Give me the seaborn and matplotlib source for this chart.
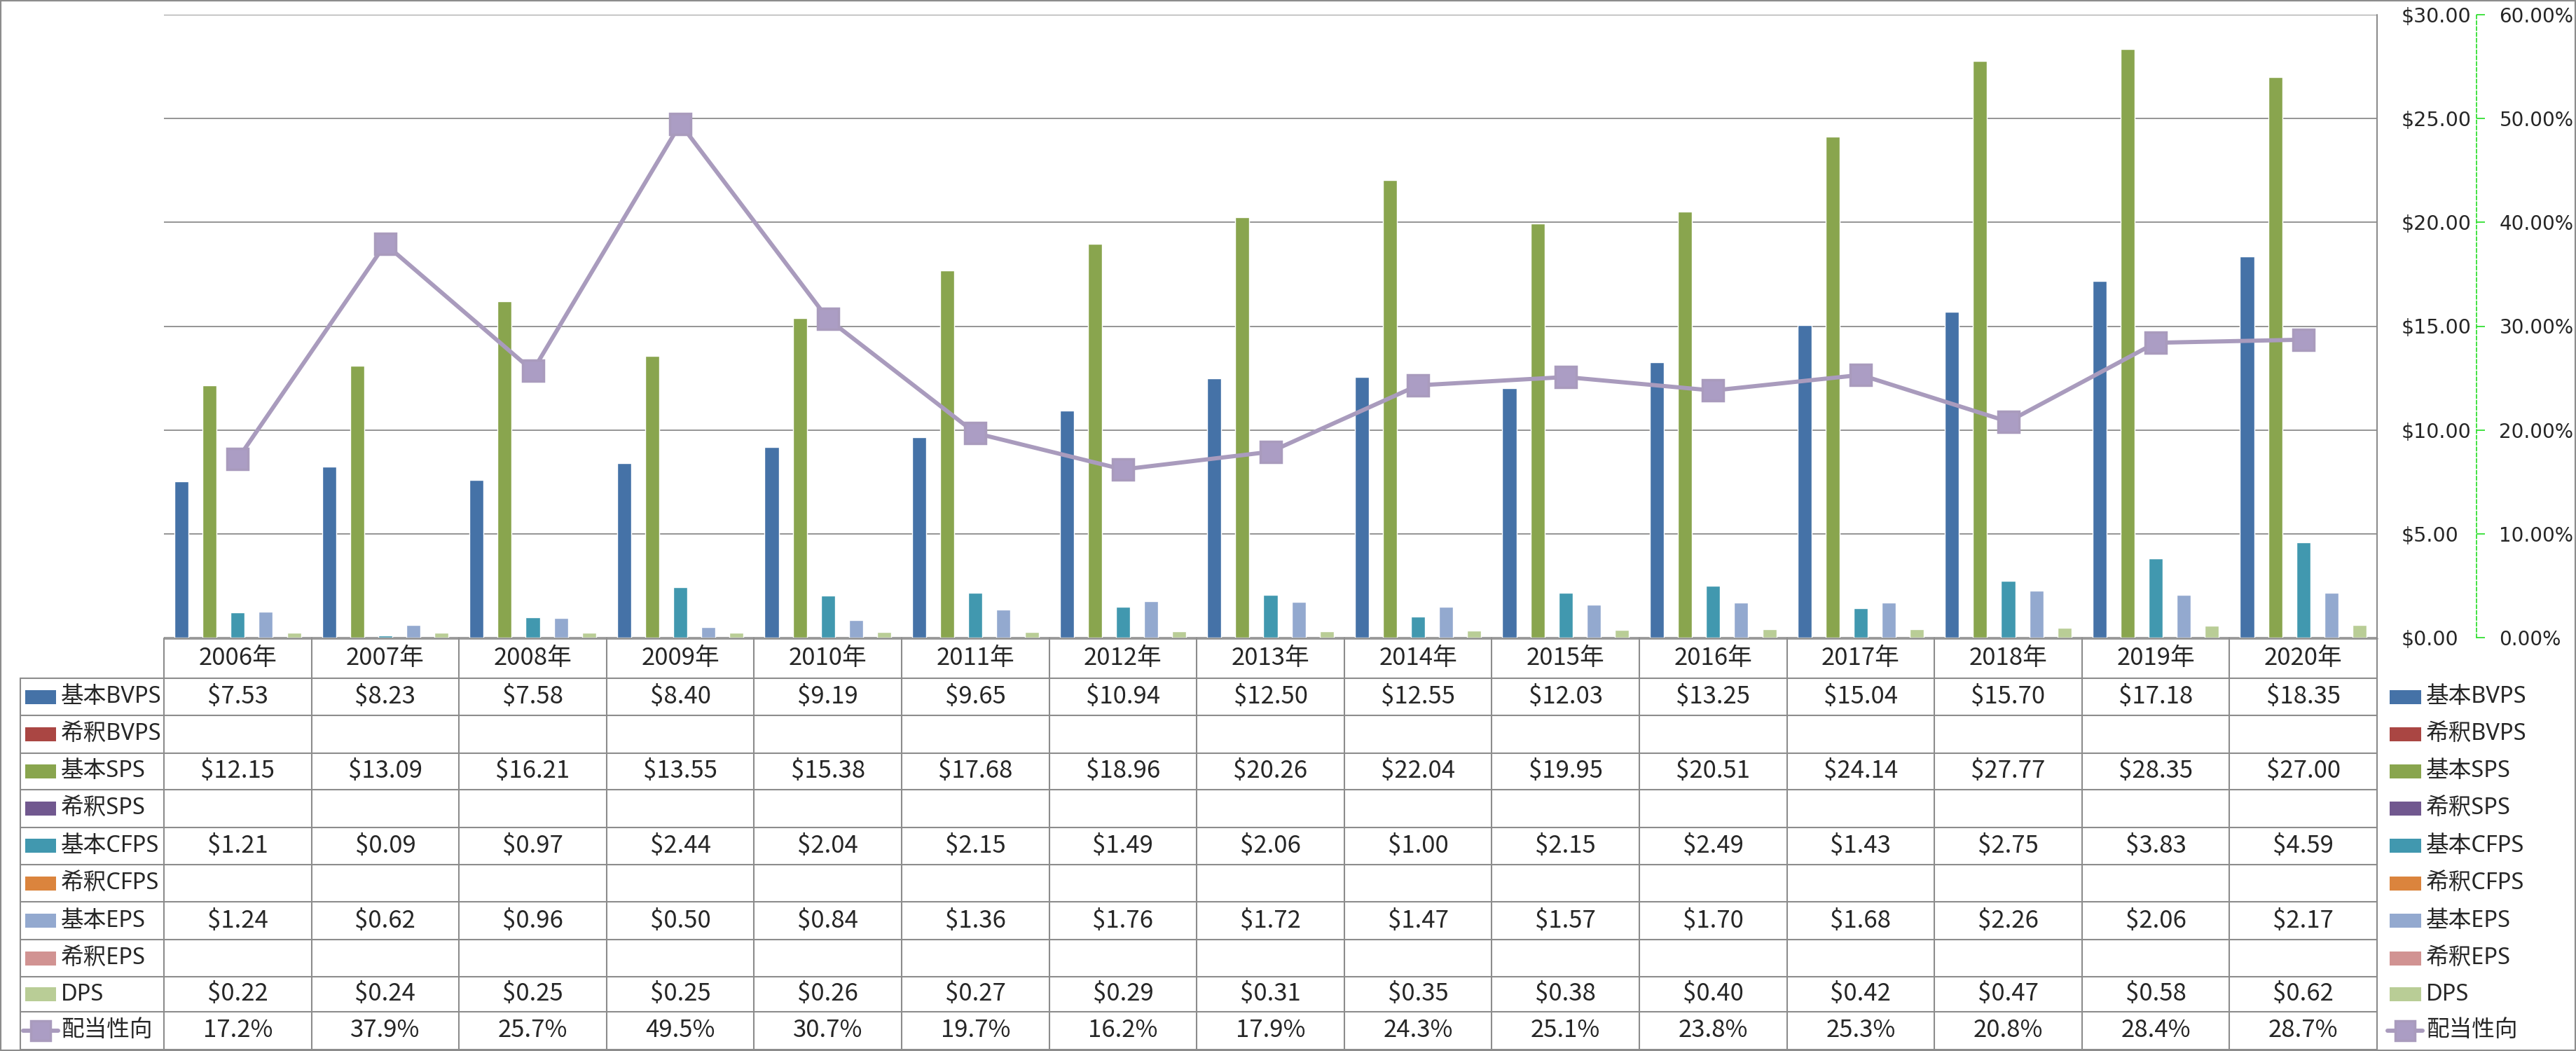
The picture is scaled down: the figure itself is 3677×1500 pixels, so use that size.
import numpy as np
import pandas as pd
import matplotlib
matplotlib.use("Agg")
import matplotlib.pyplot as plt
import seaborn as sns
from matplotlib.lines import Line2D
from matplotlib.patches import Rectangle
from matplotlib.transforms import blended_transform_factory
from matplotlib.ticker import MultipleLocator, FuncFormatter

# ---------------- data ----------------
years = ["2006年", "2007年", "2008年", "2009年", "2010年", "2011年", "2012年", "2013年",
         "2014年", "2015年", "2016年", "2017年", "2018年", "2019年", "2020年"]

basic_bvps = [7.53, 8.23, 7.58, 8.40, 9.19, 9.65, 10.94, 12.50, 12.55, 12.03, 13.25, 15.04, 15.70, 17.18, 18.35]
dil_bvps = [None] * 15
basic_sps = [12.15, 13.09, 16.21, 13.55, 15.38, 17.68, 18.96, 20.26, 22.04, 19.95, 20.51, 24.14, 27.77, 28.35, 27.00]
dil_sps = [None] * 15
basic_cfps = [1.21, 0.09, 0.97, 2.44, 2.04, 2.15, 1.49, 2.06, 1.00, 2.15, 2.49, 1.43, 2.75, 3.83, 4.59]
dil_cfps = [None] * 15
basic_eps = [1.24, 0.62, 0.96, 0.50, 0.84, 1.36, 1.76, 1.72, 1.47, 1.57, 1.70, 1.68, 2.26, 2.06, 2.17]
dil_eps = [None] * 15
dps = [0.22, 0.24, 0.25, 0.25, 0.26, 0.27, 0.29, 0.31, 0.35, 0.38, 0.40, 0.42, 0.47, 0.58, 0.62]
payout = [17.2, 37.9, 25.7, 49.5, 30.7, 19.7, 16.2, 17.9, 24.3, 25.1, 23.8, 25.3, 20.8, 28.4, 28.7]

series_names = ["基本BVPS", "希釈BVPS", "基本SPS", "希釈SPS", "基本CFPS",
                "希釈CFPS", "基本EPS", "希釈EPS", "DPS"]
series_values = [basic_bvps, dil_bvps, basic_sps, dil_sps, basic_cfps,
                 dil_cfps, basic_eps, dil_eps, dps]
line_name = "配当性向"

colors = ["#4572A7", "#AA4643", "#89A54E", "#71588F", "#4198AF",
          "#DB843D", "#93A9CF", "#D19392", "#B9CD96"]
line_color = "#A99BBD"

# ---------------- style ----------------
sns.set_style("white")
CJK = ["Noto Sans CJK JP", "DejaVu Sans"]
LEG = ["Noto Sans", "Noto Sans CJK JP"]
plt.rcParams["font.family"] = CJK

W, H, DPI = 3677, 1500, 100
fig = plt.figure(figsize=(W / DPI, H / DPI), dpi=DPI)
fig.patch.set_facecolor("white")

def fx(px):
    return px / W

def fy(py):
    return 1 - py / H

L, R, T, B = 234, 3393, 21, 910
ax = fig.add_axes([fx(L), fy(B), (R - L) / W, (B - T) / H])

rows = []
for name, vals in zip(series_names, series_values):
    for yr, v in zip(years, vals):
        rows.append((yr, name, np.nan if v is None else v))
df = pd.DataFrame(rows, columns=["year", "series", "value"])

sns.barplot(data=df, x="year", y="value", hue="series", order=years,
            hue_order=series_names, palette=dict(zip(series_names, colors)),
            width=9 / 10.5, dodge=True, saturation=1, errorbar=None,
            legend=False, ax=ax)

# secondary axis (payout ratio)
ax2 = ax.twinx()
x_idx = np.arange(len(years))
sns.lineplot(x=x_idx, y=payout, ax=ax2, color=line_color, lw=4.3, marker="s",
             markersize=21, markerfacecolor="#AB9DC4", markeredgecolor=line_color,
             markeredgewidth=2.5, errorbar=None, sort=False)

# primary axis styling (after twinx, which resets tick side)
ax.set_xlim(-0.5, len(years) - 0.5)
ax.set_ylim(0, 30)
ax.set_xlabel("")
ax.set_ylabel("")
ax.tick_params(axis="x", length=0, labelbottom=False)
ax.yaxis.set_major_locator(MultipleLocator(5))
ax.yaxis.set_major_formatter(FuncFormatter(lambda v, p: f"${v:.2f}"))
ax.yaxis.set_ticks_position("right")
ax.tick_params(axis="y", which="both", length=0, pad=25, labelsize=20.5,
               labelright=True, labelleft=False, labelfontfamily="DejaVu Sans")
ax.grid(axis="y", color="#8c8c8c", lw=1.3)
ax.grid(axis="x", visible=False)
ax.set_axisbelow(True)
for s in ax.spines.values():
    s.set_visible(False)

ax2.set_xlim(-0.5, len(years) - 0.5)
ax2.set_ylim(0, 60)
ax2.set_ylabel("")
ax2.yaxis.set_major_locator(MultipleLocator(10))
ax2.yaxis.set_major_formatter(FuncFormatter(lambda v, p: f"{v:.2f}%"))
for name, s in ax2.spines.items():
    s.set_visible(name == "right")
ax2.spines["right"].set_position(("outward", 102))
ax2.spines["right"].set_color("#22DD22")
ax2.spines["right"].set_linestyle((0, (3, 2)))
ax2.spines["right"].set_linewidth(1.2)
ax2.tick_params(axis="y", direction="out", length=8.6, width=1.2, color="#22DD22",
                pad=15, labelsize=20, labelfontfamily="DejaVu Sans")
ax2.grid(False)

# ---------------- data table ----------------
trans = blended_transform_factory(ax.transData, fig.transFigure)
GRID = "#8c8c8c"
FS = 25
FSL = 23.5

header_top, header_bot = 911, 968
row_edges = [968, 1021, 1074.5, 1127, 1180.5, 1234, 1287, 1341, 1394, 1444, 1498]
TL = 29

def hline(x0, x1, y, lw=1.5):
    fig.add_artist(Line2D([fx(x0), fx(x1)], [fy(y), fy(y)], transform=fig.transFigure,
                          color=GRID, lw=lw))

def vline(x, y0, y1, lw=1.5):
    fig.add_artist(Line2D([fx(x), fx(x)], [fy(y0), fy(y1)], transform=fig.transFigure,
                          color=GRID, lw=lw))

hline(L, R, header_top, lw=1.8)
for y in row_edges:
    hline(TL, R, y)
vline(TL, row_edges[0], row_edges[-1])
for i in range(len(years) + 1):
    xd = i - 0.5
    ax.add_artist(Line2D([xd, xd], [fy(header_top), fy(row_edges[-1])], transform=trans,
                         color=GRID, lw=1.5, clip_on=False))
vline(R, T, row_edges[-1])

# header
for i, yr in enumerate(years):
    ax.text(i, fy((header_top + header_bot) / 2), yr, transform=trans, ha="center",
            va="center", fontsize=FS, clip_on=False)

all_names = series_names + [line_name]
all_colors = colors + [line_color]
for r, name in enumerate(all_names):
    yc = (row_edges[r] + row_edges[r + 1]) / 2
    if name == line_name:
        for x0, x1 in ((33, 83), (3408, 3458)):
            fig.add_artist(Line2D([fx(x0), fx(x1)], [fy(yc), fy(yc)], transform=fig.transFigure,
                                  color=line_color, lw=4.3, solid_capstyle="round"))
            fig.add_artist(Line2D([fx((x0 + x1) / 2)], [fy(yc)], transform=fig.transFigure,
                                  marker="s", markersize=20, markerfacecolor="#AB9DC4",
                                  markeredgecolor=line_color, markeredgewidth=2.5, lw=0))
    else:
        fig.add_artist(Rectangle((fx(36), fy(yc + 10)), fx(44), 20 / H,
                                 transform=fig.transFigure, facecolor=all_colors[r], lw=0))
        fig.add_artist(Rectangle((fx(3411), fy(yc + 10)), fx(45), 20 / H,
                                 transform=fig.transFigure, facecolor=all_colors[r], lw=0))
    fig.text(fx(87), fy(yc), name, ha="left", va="center", fontsize=FSL, family=LEG)
    fig.text(fx(3463), fy(yc), name, ha="left", va="center", fontsize=FSL, family=LEG)

    vals = payout if name == line_name else series_values[r]
    for i, v in enumerate(vals):
        if v is None:
            continue
        txt = f"{v:.1f}%" if name == line_name else f"${v:.2f}"
        ax.text(i, fy(yc), txt, transform=trans, ha="center", va="center",
                fontsize=FS, clip_on=False)

# outer chart border
fig.add_artist(Rectangle((0, 0), 1, 1, transform=fig.transFigure, fill=False,
                         edgecolor="#8c8c8c", lw=3))

fig.savefig("out.png", dpi=DPI, facecolor="white")
